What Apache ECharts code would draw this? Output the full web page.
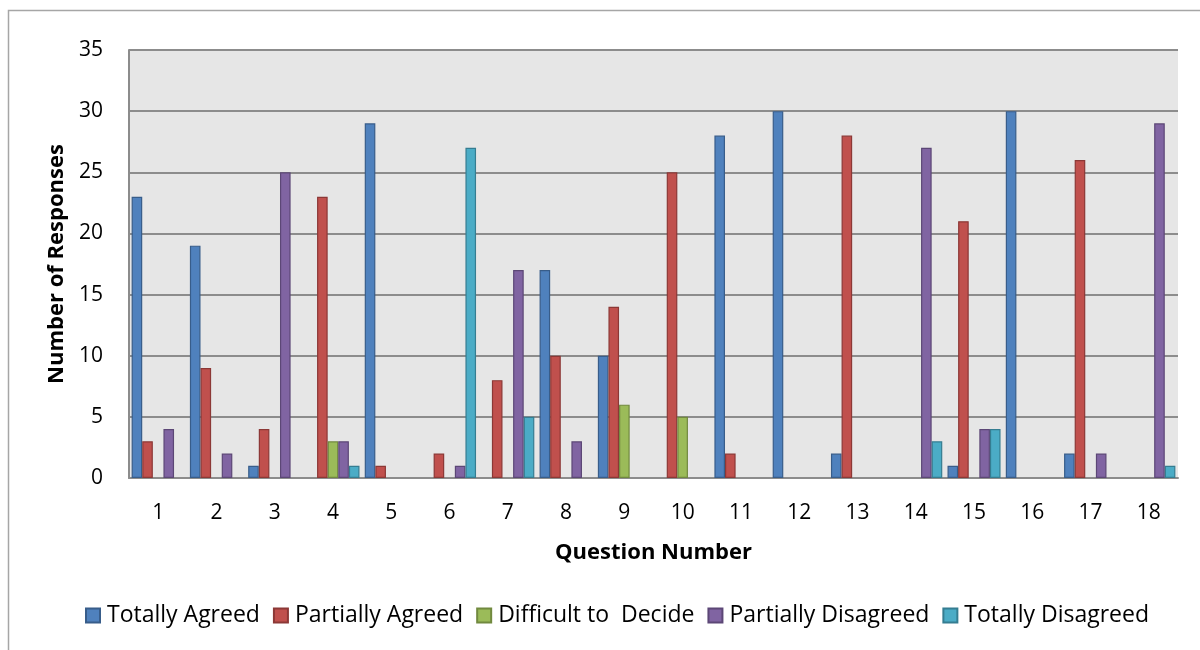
<!DOCTYPE html>
<html>
<head>
<meta charset="utf-8">
<script src="https://cdn.jsdelivr.net/npm/echarts@6/dist/echarts.min.js"></script>
<style>html,body{margin:0;padding:0;background:#fff}#c{width:1200px;height:650px}</style>
</head>
<body>
<div id="c"></div>
<script>
const questions = ['1','2','3','4','5','6','7','8','9','10','11','12','13','14','15','16','17','18'];
const seriesNames = ['Totally Agreed','Partially Agreed','Difficult to  Decide','Partially Disagreed','Totally Disagreed'];
const totallyAgreed      = [23,19,1,0,29,0,0,17,10,0,28,30,2,0,1,30,2,0];
const partiallyAgreed    = [3,9,4,23,1,2,8,10,14,25,2,0,28,0,21,0,26,0];
const difficultToDecide  = [0,0,0,3,0,0,0,0,6,5,0,0,0,0,0,0,0,0];
const partiallyDisagreed = [4,2,25,3,0,1,17,3,0,0,0,0,0,27,4,0,2,29];
const totallyDisagreed   = [0,0,0,1,0,27,5,0,0,0,0,0,0,3,4,0,0,1];
const yTicks = [0,5,10,15,20,25,30,35];

const values = [totallyAgreed, partiallyAgreed, difficultToDecide, partiallyDisagreed, totallyDisagreed];
const fills = ['#4F81BD','#C0504D','#9BBB59','#8064A2','#4BACC6'];
const borders = ['#385D8A','#8C3836','#71893F','#5C4776','#357D91'];
const font = '"Open Sans", sans-serif';

const chart = echarts.init(document.getElementById('c'), null, {renderer:'canvas'});
chart.setOption({
  animation:false,
  backgroundColor:'#ffffff',
  graphic:[{type:'rect', shape:{x:8.5,y:10.5,width:1220,height:660}, style:{fill:'none',stroke:'#a6a6a6',lineWidth:1.5}, silent:true}],
  grid:{left:129, right:22, top:50, bottom:172, show:true, backgroundColor:'#e6e6e6', borderWidth:0},
  legend:{
    top:599, left:80, itemWidth:14, itemHeight:14, itemGap:13, icon:'rect',
    textStyle:{fontFamily:font, fontSize:23, color:'#000', padding:[0,0,0,2]},
    data:seriesNames
  },
  xAxis:{
    type:'category', data:questions,
    axisLine:{show:true, lineStyle:{color:'#8c8c8c', width:2}},
    axisTick:{show:false},
    axisLabel:{fontFamily:font, fontSize:21, color:'#000', margin:25},
    name:'Question Number', nameLocation:'middle', nameGap:64,
    nameTextStyle:{fontFamily:font, fontSize:22, fontWeight:'bold', color:'#000'}
  },
  yAxis:{
    type:'value', min:yTicks[0], max:yTicks[yTicks.length-1], interval:yTicks[1]-yTicks[0],
    axisLine:{show:true, lineStyle:{color:'#8c8c8c', width:2}},
    axisTick:{show:false},
    splitLine:{show:true, lineStyle:{color:'#8c8c8c', width:2}},
    axisLabel:{fontFamily:font, fontSize:21, color:'#000', margin:26},
    name:'Number of Responses', nameLocation:'middle', nameGap:60,
    nameTextStyle:{fontFamily:font, fontSize:22, fontWeight:'bold', color:'#000'}
  },
  series: seriesNames.map((n,i)=>({
    name:n, type:'bar', data:values[i].map(v => v === 0 ? '-' : v),
    barGap:'0%', barCategoryGap:'9%',
    itemStyle:{color:fills[i], borderColor:borders[i], borderWidth:1.2}
  }))
});
</script>
</body>
</html>
